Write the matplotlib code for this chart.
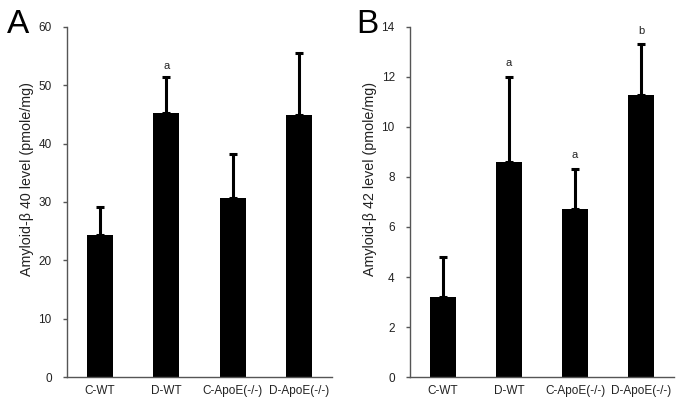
import matplotlib
matplotlib.use("Agg")
import matplotlib.pyplot as plt
import numpy as np

plt.rcParams['font.family'] = ['Liberation Sans', 'DejaVu Sans']

categories = ["C-WT", "D-WT", "C-ApoE(-/-)", "D-ApoE(-/-)"]
ab40_mean = [24.4, 45.3, 30.6, 45.0]
ab40_err = [4.7, 6.2, 7.7, 10.5]
ab40_sig = ["", "a", "", ""]
ab42_mean = [3.21, 8.59, 6.71, 11.27]
ab42_err = [1.58, 3.40, 1.62, 2.04]
ab42_sig = ["", "a", "a", "b"]

fig = plt.figure(figsize=(6.83, 4.01), dpi=100)
axA = fig.add_axes([67/683, 1-377/401, 265/683, 350/401])
axB = fig.add_axes([410/683, 1-377/401, 264/683, 350/401])

grey = "#555555"
txt = "#222222"

def draw(ax, means, errs, sigs, ymax, ystep, ylabel, sig_off):
    x = np.arange(len(categories))
    ax.bar(x, means, width=0.39, color="black", zorder=2)
    ax.errorbar(x, means, yerr=[np.zeros(len(means)), errs], fmt="none",
                ecolor="black", elinewidth=2.2, capsize=2.8, capthick=2.2, zorder=3)
    for xi, m, e, s in zip(x, means, errs, sigs):
        if s:
            ax.text(xi, m + e + sig_off, s, ha="center", va="bottom",
                    fontsize=8, color=txt)
    ax.set_xlim(-0.5, 3.5)
    ax.set_ylim(0, ymax)
    ax.set_yticks(np.arange(0, ymax + 0.001, ystep))
    ax.set_xticks(x)
    ax.set_xticklabels(categories)
    for sp in ["top", "right"]:
        ax.spines[sp].set_visible(False)
    for sp in ["left", "bottom"]:
        ax.spines[sp].set_color(grey)
        ax.spines[sp].set_linewidth(1.0)
    ax.tick_params(axis="y", direction="out", length=3, width=1, color=grey,
                   labelsize=8.5, labelcolor=txt, pad=8)
    ax.tick_params(axis="x", length=0, labelsize=8.5, labelcolor=txt, pad=6)
    ax.set_ylabel(ylabel, fontsize=10.3, color=txt, labelpad=3)
    ax.yaxis.label.set_y(0.566)

draw(axA, ab40_mean, ab40_err, ab40_sig, 60, 10,
     "Amyloid-\u03b2 40 level (pmole/mg)", 1.0)
draw(axB, ab42_mean, ab42_err, ab42_sig, 14, 2,
     "Amyloid-\u03b2 42 level (pmole/mg)", 0.35)

fig.text(7/683, 1-33/401, "A", fontsize=24, color="black", ha="left", va="baseline")
fig.text(356/683, 1-33/401, "B", fontsize=24, color="black", ha="left", va="baseline")

fig.savefig("out.png", dpi=100)
